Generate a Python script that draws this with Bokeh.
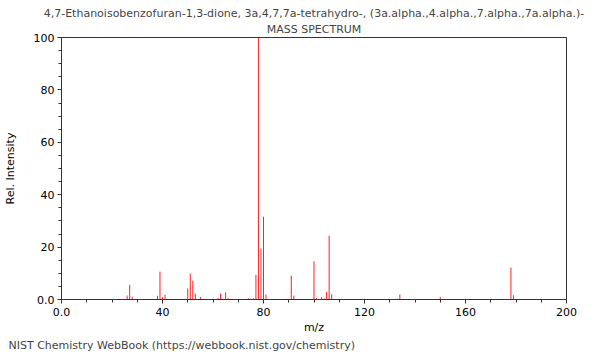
from bokeh.plotting import figure
from bokeh.models import Title, FixedTicker, ColumnDataSource, CustomJSTickFormatter
from bokeh.embed import file_html
from bokeh.resources import INLINE

title_line1 = "4,7-Ethanoisobenzofuran-1,3-dione, 3a,4,7,7a-tetrahydro-, (3a.alpha.,4.alpha.,7.alpha.,7a.alpha.)-"
title_line2 = "MASS SPECTRUM"
footer = "NIST Chemistry WebBook (https://webbook.nist.gov/chemistry)"

mz = [26, 27, 28, 38, 39, 40, 41, 50, 51, 52, 53, 55, 62, 63, 65, 66,
      74, 75, 76, 77, 78, 79, 80, 81, 89, 91, 92, 100, 101, 103, 104,
      105, 106, 107, 115, 133, 134, 150, 178, 179]
intensity = [1.5, 5.6, 1.1, 1.4, 10.6, 0.8, 1.8, 4.2, 9.9, 7.2, 2.2, 0.9, 0.5, 2.3, 2.7, 0.5,
             0.5, 0.3, 0.4, 9.4, 100.0, 19.4, 31.6, 1.9, 0.3, 9.1, 1.5, 14.6, 0.5, 0.9, 0.4,
             2.9, 24.3, 2.0, 0.2, 0.3, 1.9, 1.0, 12.2, 1.6]

x_major = [0, 40, 80, 120, 160, 200]
x_minor = list(range(0, 201, 10))
y_major = [0, 20, 40, 60, 80, 100]
y_minor = list(range(0, 101, 5))

FONT = "DejaVu Sans"

p = figure(frame_width=505, frame_height=262, output_backend="svg", toolbar_location=None,
           x_range=(0, 200), y_range=(0, 100),
           min_border_left=53, min_border_right=26, min_border_top=0, min_border_bottom=0)

p.add_layout(Title(text=title_line2, align="center", text_font=FONT, text_font_size="11px",
                   text_font_style="normal", standoff=3), "above")
p.add_layout(Title(text=title_line1, align="center", text_font=FONT, text_font_size="11px",
                   text_font_style="normal", standoff=0), "above")
# small blank spacer above the main title
p.add_layout(Title(text=" ", align="center", text_font=FONT, text_font_size="2px",
                   text_font_style="normal", standoff=0), "above")
p.add_layout(Title(text=footer, align="left", offset=-53, text_font=FONT, text_font_size="11px",
                   text_font_style="normal", standoff=0), "below")

src = ColumnDataSource(dict(x=mz, y=intensity, y0=[0] * len(mz)))
p.segment(x0="x", y0="y0", x1="x", y1="y", source=src, line_color="#ff2020", line_width=1)

p.grid.visible = False
p.outline_line_color = "#333333"
p.background_fill_color = "white"
p.border_fill_color = "white"

fmt = CustomJSTickFormatter(code="return tick == 0 ? '0.0' : tick.toFixed(0);")

for ax, major, minor in ((p.xaxis[0], x_major, x_minor), (p.yaxis[0], y_major, y_minor)):
    ax.ticker = FixedTicker(ticks=major, minor_ticks=minor)
    ax.formatter = fmt
    ax.axis_line_color = "#333333"
    ax.major_tick_line_color = "#333333"
    ax.minor_tick_line_color = "#333333"
    ax.major_tick_in = 0
    ax.major_tick_out = 4
    ax.minor_tick_in = 0
    ax.minor_tick_out = 3
    ax.major_label_text_font = FONT
    ax.major_label_text_font_size = "11px"
    ax.major_label_text_color = "black"
    ax.axis_label_text_font = FONT
    ax.axis_label_text_font_size = "11px"
    ax.axis_label_text_font_style = "normal"
    ax.axis_label_text_color = "black"

p.xaxis.axis_label = "m/z"
p.yaxis.axis_label = "Rel. Intensity"
p.xaxis.major_label_standoff = 4
p.xaxis.axis_label_standoff = 2
p.yaxis.major_label_standoff = 3
p.yaxis.axis_label_standoff = 14

open("out.html", "w").write(file_html(p, INLINE))
